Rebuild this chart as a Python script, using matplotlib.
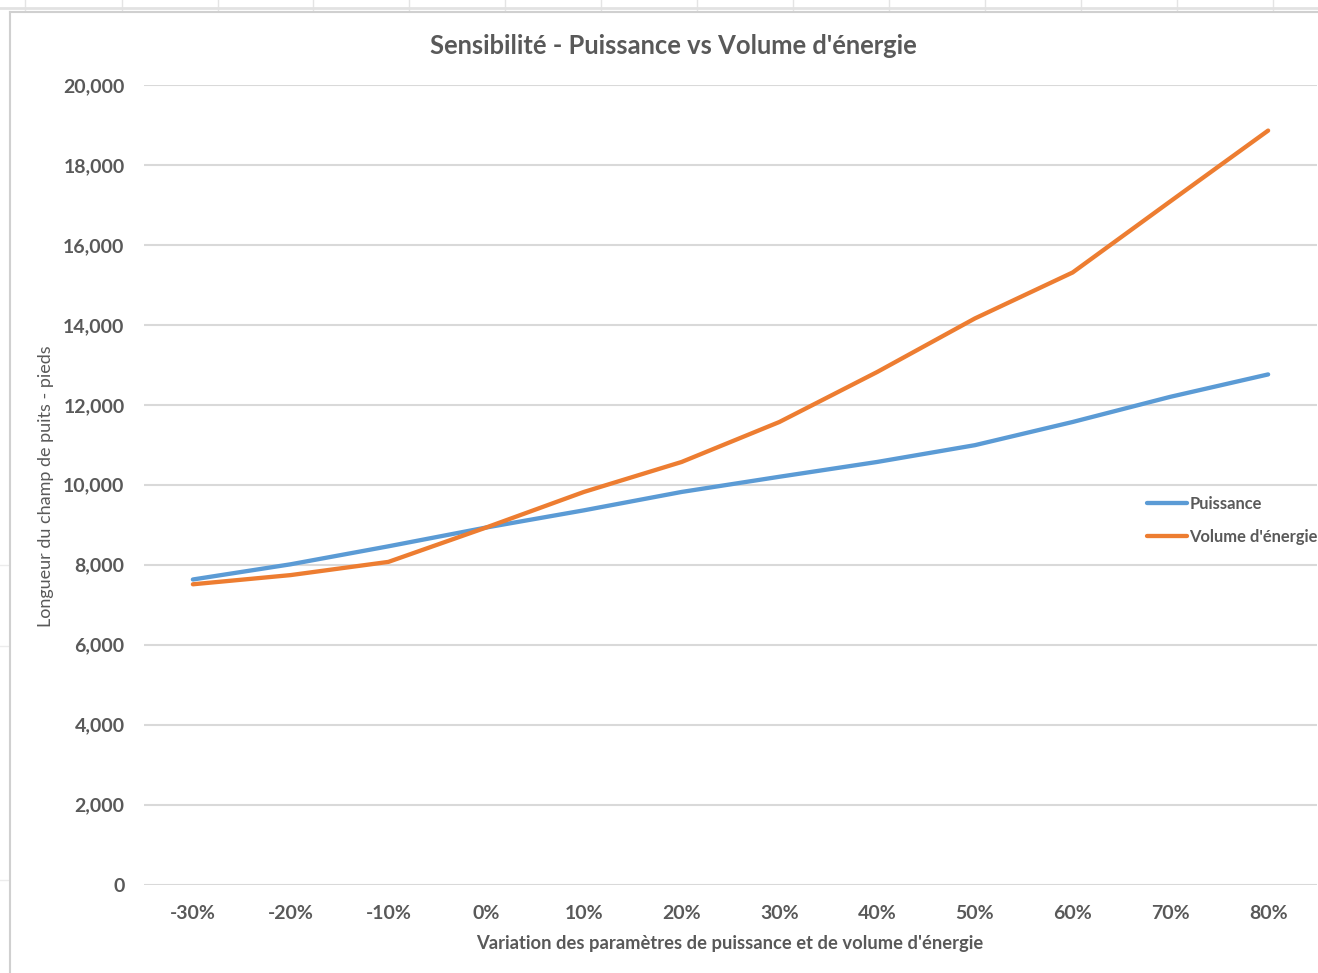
import matplotlib
matplotlib.use("Agg")
import matplotlib.pyplot as plt
from matplotlib.lines import Line2D
from matplotlib.ticker import FuncFormatter

# --- Data ---
variations = ["-30%", "-20%", "-10%", "0%", "10%", "20%", "30%", "40%", "50%", "60%", "70%", "80%"]
puissance = [7630, 8010, 8460, 8930, 9360, 9820, 10200, 10570, 10990, 11570, 12200, 12760]
volume_energie = [7510, 7740, 8070, 8930, 9820, 10570, 11570, 12820, 14160, 15310, 17090, 18860]

W, H = 1318, 973
GREY = "#595959"
BLUE = "#5B9BD5"
ORANGE = "#ED7D31"
GRID = "#D9D9D9"

plt.rcParams["font.family"] = ["Lato", "DejaVu Sans"]


def px(x, y):
    # pixel coords (top-left origin) -> figure fraction
    return x / W, 1 - y / H


fig = plt.figure(figsize=(W / 100, H / 100), dpi=100)
fig.patch.set_facecolor("white")

# spreadsheet cells peeking out above/left of the chart frame
for cx in [25, 122, 218, 313, 409, 505, 601, 697, 793, 889, 985, 1081, 1177, 1273]:
    fig.add_artist(Line2D([cx / W, cx / W], [1 - 0 / H, 1 - 11 / H], color="#E4E4E4", lw=1))
fig.add_artist(Line2D([0, 1], [1 - 8 / H, 1 - 8 / H], color="#E2E2E2", lw=2))
for cy in [565, 646, 880]:
    fig.add_artist(Line2D([0, 9 / W], [1 - cy / H, 1 - cy / H], color="#ECECEC", lw=1))

# chart frame
fig.add_artist(Line2D([10 / W, 10 / W], [0, 1 - 12 / H], color="#D0D0D0", lw=1.5))
fig.add_artist(Line2D([10 / W, 1], [1 - 12 / H, 1 - 12 / H], color="#D0D0D0", lw=1.5))

left, top = px(144, 85)
right, bottom = px(1317, 884.5)
ax = fig.add_axes([left, bottom, right - left, top - bottom])

x = list(range(len(variations)))
ax.plot(x, puissance, color=BLUE, lw=3.1, solid_capstyle="round", label="Puissance", zorder=3)
ax.plot(x, volume_energie, color=ORANGE, lw=3.1, solid_capstyle="round", label="Volume d'énergie", zorder=3)

ax.set_xlim(-0.5, len(variations) - 0.5)
ax.set_ylim(0, 20000)
ax.set_yticks(range(0, 20001, 2000))
ax.yaxis.set_major_formatter(FuncFormatter(lambda v, p: f"{int(v):,}"))
ax.set_xticks(x)
ax.set_xticklabels(variations)

ax.grid(axis="y", color=GRID, lw=1.5)
ax.set_axisbelow(True)
for spine in ax.spines.values():
    spine.set_visible(False)
ax.tick_params(length=0, colors=GREY, labelsize=14)
ax.tick_params(axis="y", pad=14)
ax.tick_params(axis="x", pad=14.5)
for lbl in ax.get_xticklabels() + ax.get_yticklabels():
    lbl.set_fontweight("bold")

tx, ty = px(673, 46.5)
fig.text(tx, ty, "Sensibilité - Puissance vs Volume d'énergie", ha="center", va="center",
         fontsize=18.4, fontweight="bold", color=GREY)
lx, ly = px(730, 943.5)
fig.text(lx, ly, "Variation des paramètres de puissance et de volume d'énergie", ha="center", va="center",
         fontsize=13.2, fontweight="bold", color=GREY)
yx, yy = px(46, 486)
fig.text(yx, yy, "Longueur du champ de puits - pieds", ha="center", va="center", rotation=90,
         fontsize=13, color=GREY)

gx, gy = px(1147, 496)
leg = fig.legend(loc="upper left", bbox_to_anchor=(gx, gy), frameon=False, handlelength=2.45,
                 handletextpad=0.1, labelspacing=1.0, prop={"size": 11.9, "weight": "bold"},
                 borderaxespad=0, borderpad=0)
for t in leg.get_texts():
    t.set_color(GREY)

fig.savefig("out.png", dpi=100, facecolor="white")
